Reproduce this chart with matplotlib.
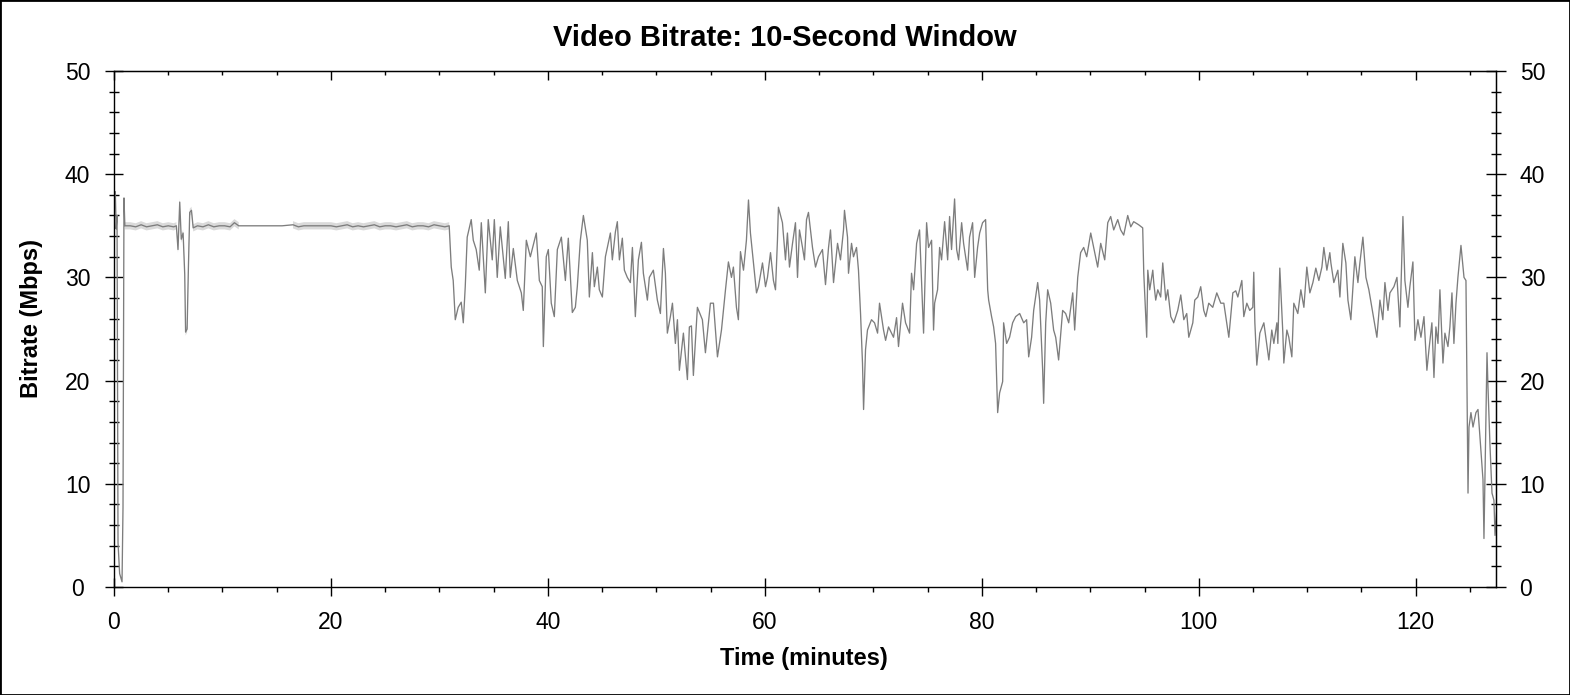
import numpy as np
import matplotlib
matplotlib.use("Agg")  # no display
import matplotlib.pyplot as plt
from matplotlib.ticker import MultipleLocator
from matplotlib.patches import Rectangle

plt.rcParams['font.family'] = ['Liberation Sans', 'DejaVu Sans']

# time in minutes, bitrate in Mbps
time_min = [
    0.05, 0.12, 0.20, 0.28, 0.37, 0.52, 0.74, 0.83, 0.89, 0.92, 1.0,
    1.5, 2.0, 2.5, 3.0, 3.5, 4.0, 4.5, 5.0, 5.5, 5.75,
    5.9, 6.06, 6.2, 6.37, 6.52, 6.6, 6.74, 6.86, 6.98, 7.14, 7.3,
    7.7, 8.2, 8.7, 9.2, 9.7, 10.2, 10.7, 11.1, 11.5,
    13.0, 15.5, 16.5, 17.0, 17.5, 18.0, 19.5,
    20.0, 20.5, 21.0, 21.5, 22.0, 22.5, 23.0, 23.5, 24.0, 24.5, 25.0, 25.5,
    26.0, 26.5, 27.0, 27.5, 28.0, 28.5, 29.0, 29.5, 30.0, 30.5, 30.9,
    31.09, 31.27, 31.46, 31.73, 32.01, 32.20, 32.38, 32.56, 32.93, 33.12,
    33.39, 33.67, 33.86, 34.23, 34.50, 34.87, 35.06, 35.33, 35.61, 36.07,
    36.35, 36.53, 36.81, 37.18, 37.55, 37.73, 38.01, 38.38, 38.93, 39.21,
    39.48, 39.58, 39.85, 40.04, 40.31, 40.59, 40.87, 41.24, 41.61, 41.88,
    42.25, 42.53, 42.71, 42.99, 43.27, 43.63, 43.82, 44.10, 44.28, 44.56,
    44.74, 45.02, 45.30, 45.76, 45.94, 46.22, 46.40, 46.59, 46.86, 47.05,
    47.32, 47.60, 47.79, 48.06, 48.34, 48.62, 48.80, 49.17, 49.35, 49.72,
    50.09, 50.37, 50.65, 50.83, 51.01, 51.29, 51.48, 51.75, 51.94, 52.12,
    52.49, 52.86, 53.04, 53.23, 53.41, 53.78, 54.24, 54.52, 54.98, 55.26,
    55.63, 56.00, 56.37, 56.64, 56.92, 57.10, 57.38, 57.56, 57.75, 58.03,
    58.30, 58.49, 58.67, 58.95, 59.23, 59.41, 59.78, 60.06, 60.24, 60.52,
    60.79, 60.98, 61.16, 61.25, 61.62, 61.90, 62.08, 62.27, 62.55, 62.82,
    63.01, 63.19, 63.47, 63.65, 63.84, 64.02, 64.39, 64.67, 64.94, 65.31,
    65.59, 65.87, 66.05, 66.33, 66.70, 66.97, 67.25, 67.34, 67.62, 67.71,
    67.99, 68.17, 68.45, 68.63, 68.82, 69.00, 69.10, 69.28, 69.46, 69.83,
    70.11, 70.39, 70.57, 70.94, 71.13, 71.40, 71.86, 72.14, 72.32, 72.69,
    72.97, 73.34, 73.52, 73.71, 73.99, 74.26, 74.45, 74.63, 74.91, 75.09,
    75.37, 75.55, 75.65, 75.92, 76.11, 76.29, 76.57, 76.85, 77.03, 77.21,
    77.49, 77.68, 77.86, 78.14, 78.32, 78.69, 78.87, 79.15, 79.34, 79.61,
    79.80, 80.07, 80.35, 80.54, 80.63, 80.90, 81.09, 81.27, 81.46, 81.64,
    81.92, 82.01, 82.29, 82.56, 82.84, 83.12, 83.49, 83.86, 84.13, 84.32,
    84.59, 84.78, 85.15, 85.33, 85.61, 85.70, 85.89, 86.07, 86.35, 86.62,
    86.81, 87.08, 87.45, 87.73, 88.01, 88.38, 88.56, 88.84, 89.11, 89.39,
    89.67, 90.04, 90.31, 90.68, 90.96, 91.33, 91.61, 91.88, 92.16, 92.53,
    92.80, 93.08, 93.45, 93.73, 94.00, 94.46, 94.83, 94.93, 95.20, 95.30,
    95.48, 95.76, 95.85, 96.03, 96.22, 96.49, 96.68, 96.96, 97.14, 97.42,
    97.69, 98.06, 98.34, 98.62, 98.89, 99.08, 99.45, 99.63, 99.91, 100.18,
    100.46, 100.65, 100.92, 101.29, 101.66, 102.03, 102.31, 102.58, 102.77, 103.14,
    103.41, 103.60, 103.97, 104.15, 104.43, 104.70, 104.98, 105.07, 105.17, 105.35,
    105.63, 106.00, 106.46, 106.73, 106.92, 107.20, 107.29, 107.47, 107.75, 107.84,
    108.12, 108.30, 108.58, 108.76, 109.13, 109.41, 109.69, 109.96, 110.24, 110.52,
    110.79, 111.07, 111.35, 111.53, 111.81, 112.08, 112.18, 112.45, 112.82, 113.01,
    113.28, 113.56, 113.75, 114.02, 114.39, 114.67, 114.85, 115.13, 115.41, 115.68,
    116.05, 116.42, 116.70, 116.97, 117.16, 117.44, 117.62, 117.99, 118.27, 118.54,
    118.82, 119.00, 119.28, 119.46, 119.74, 119.93, 120.20, 120.48, 120.76, 121.03,
    121.22, 121.49, 121.68, 121.86, 122.05, 122.23, 122.51, 122.69, 122.97, 123.15,
    123.34, 123.52, 123.71, 123.89, 124.17, 124.45, 124.63, 124.82, 124.91, 125.09,
    125.28, 125.55, 125.74, 125.92, 126.20, 126.29, 126.57, 126.66, 126.85, 127.03,
    127.21, 127.31, 127.49,
]
bitrate_mbps = [
    38.0, 38.3, 34.7, 36.0, 4.3, 1.3, 0.5, 7.7, 25.7, 37.7, 35.0,
    35.0, 34.9, 35.1, 34.9, 35.0, 35.1, 34.9, 35.0, 34.9, 35.0,
    32.7, 37.3, 33.7, 34.3, 30.3, 24.7, 25.0, 31.0, 36.3, 36.5, 34.8,
    35.0, 34.9, 35.1, 34.9, 35.0, 35.0, 34.9, 35.3, 35.0,
    35.0, 35.0, 35.1, 34.9, 35.0, 35.0, 35.0,
    35.0, 34.9, 35.0, 35.1, 34.9, 35.0, 34.9, 35.0, 35.1, 34.9, 35.0, 35.0,
    34.9, 35.0, 35.1, 34.9, 35.0, 35.0, 34.9, 35.1, 35.0, 34.9, 35.0,
    31.0, 29.7, 25.9, 27.1, 27.6, 25.6, 29.1, 33.9, 35.6, 33.6,
    32.7, 30.7, 35.3, 28.5, 35.6, 31.7, 35.6, 30.0, 34.9, 29.9,
    35.4, 30.0, 32.8, 29.7, 28.5, 26.8, 33.6, 32.0, 34.3, 29.7,
    29.1, 23.3, 32.0, 32.7, 27.5, 26.2, 32.7, 33.9, 29.7, 33.8,
    26.6, 27.1, 29.1, 33.6, 36.0, 33.6, 28.1, 32.4, 29.1, 31.0,
    28.8, 28.1, 32.0, 34.3, 31.7, 34.4, 35.4, 31.7, 33.8, 30.7,
    30.0, 29.5, 32.9, 26.2, 31.7, 33.4, 30.4, 27.8, 30.0, 30.7,
    27.8, 26.5, 32.8, 30.4, 24.6, 26.2, 27.5, 23.6, 25.9, 21.0,
    24.6, 20.1, 25.2, 25.3, 20.5, 27.1, 25.9, 22.7, 27.5, 27.5,
    22.3, 24.9, 28.8, 31.5, 30.0, 31.0, 27.1, 25.9, 32.5, 30.7,
    33.6, 37.5, 34.3, 31.4, 28.5, 29.1, 31.4, 29.1, 30.0, 32.4,
    29.7, 28.8, 33.6, 36.8, 35.3, 31.7, 34.3, 31.0, 33.3, 35.3,
    30.0, 34.6, 32.9, 31.7, 35.6, 36.3, 32.9, 31.0, 32.0, 32.7,
    29.3, 32.9, 34.6, 29.5, 33.3, 31.7, 34.6, 36.5, 33.9, 30.4,
    33.3, 32.0, 32.9, 30.7, 26.5, 21.7, 17.2, 23.0, 24.9, 25.9,
    25.6, 24.6, 27.5, 24.9, 23.9, 25.2, 24.2, 26.1, 23.3, 27.5,
    25.6, 24.6, 30.4, 28.8, 33.3, 34.6, 29.5, 24.6, 35.3, 32.9,
    33.6, 24.9, 27.5, 28.8, 32.9, 31.7, 35.4, 31.7, 35.9, 32.7,
    37.6, 32.7, 31.7, 35.3, 33.3, 30.7, 33.9, 35.3, 30.0, 32.9,
    34.3, 35.3, 35.6, 28.8, 27.8, 26.2, 25.2, 23.6, 16.9, 18.8,
    19.9, 25.6, 23.6, 24.2, 25.6, 26.2, 26.5, 25.6, 25.9, 22.3,
    24.2, 26.8, 29.5, 27.8, 21.0, 17.8, 25.6, 28.8, 27.5, 24.9,
    24.2, 22.0, 26.8, 26.5, 25.6, 28.5, 24.9, 30.0, 32.4, 32.9,
    32.0, 34.3, 32.9, 31.0, 33.3, 31.7, 35.3, 35.9, 34.6, 35.6,
    34.6, 34.1, 36.0, 34.9, 35.4, 35.1, 34.8, 30.4, 24.2, 30.7,
    28.8, 30.7, 29.5, 27.8, 28.8, 28.1, 31.4, 27.8, 28.8, 26.2,
    25.6, 26.8, 28.3, 25.9, 26.5, 24.2, 25.6, 27.8, 28.1, 29.1,
    26.8, 26.2, 27.5, 27.1, 28.5, 27.5, 27.5, 25.6, 24.2, 28.5,
    28.7, 28.1, 29.7, 26.2, 27.5, 26.8, 27.1, 30.5, 25.6, 21.5,
    24.6, 25.6, 22.0, 24.9, 23.6, 25.6, 23.6, 30.9, 24.6, 21.7,
    24.9, 24.2, 22.3, 27.5, 26.5, 28.8, 27.1, 31.0, 28.5, 29.5,
    30.9, 29.7, 31.0, 32.9, 30.7, 32.4, 31.4, 29.5, 30.7, 28.1,
    33.3, 31.4, 27.8, 25.9, 32.0, 29.5, 31.4, 33.9, 30.0, 28.8,
    26.5, 24.2, 27.8, 25.9, 29.5, 26.8, 28.5, 29.1, 30.0, 25.2,
    35.9, 29.7, 27.1, 29.1, 31.5, 23.9, 25.9, 24.2, 26.2, 21.0,
    23.0, 25.6, 20.3, 25.2, 23.6, 28.8, 21.7, 24.6, 23.3, 25.2,
    28.5, 23.6, 27.5, 30.0, 33.1, 30.0, 29.7, 9.1, 15.5, 16.9,
    15.5, 16.9, 17.2, 14.5, 10.4, 4.7, 22.7, 19.4, 13.6, 9.1,
    8.4, 5.0, 7.8,
]

x_ticks = [0, 20, 40, 60, 80, 100, 120]
y_ticks = [0, 10, 20, 30, 40, 50]

title = "Video Bitrate: 10-Second Window"
x_label = "Time (minutes)"
y_label = "Bitrate (Mbps)"

t = np.array(time_min)
v = np.array(bitrate_mbps)

W, H = 1570, 695
fig = plt.figure(figsize=(W / 100, H / 100), dpi=100)
ax = fig.add_axes([114 / W, 1 - 587 / H, (1496 - 114) / W, (587 - 71) / H])

# light grey envelope only shows on the constant-rate stretches
flat = ((t >= 1.0) & (t <= 11.6)) | ((t >= 16.0) & (t <= 30.95))
ax.fill_between(t, v - 0.35, v + 0.35, where=flat, color="#dadada", lw=0, zorder=1)
ax.plot(t, v, color="#7d7d7d", lw=0.95, zorder=2)

ax.set_xlim(0, 127.4)
ax.set_ylim(0, 50)
for s in ax.spines.values():
    s.set_linewidth(1.0)

# bottom / left ticks
ax.set_xticks(x_ticks)
ax.set_yticks(y_ticks)
ax.xaxis.set_minor_locator(MultipleLocator(5))
ax.yaxis.set_minor_locator(MultipleLocator(2))
ax.tick_params(axis="x", which="major", direction="inout", length=13, width=1,
               pad=11, labelsize=16.5)
ax.tick_params(axis="x", which="minor", direction="out", length=3.5, width=1)
ax.tick_params(axis="y", which="major", direction="inout", length=13.5, width=1,
               pad=19.5, labelsize=16.5)
ax.tick_params(axis="y", which="minor", direction="inout", length=6.5, width=1)
for lab in ax.get_yticklabels():
    lab.set_horizontalalignment("center")

# top and right ticks
top = ax.secondary_xaxis("top")
top.set_xticks(x_ticks)
top.xaxis.set_minor_locator(MultipleLocator(5))
top.tick_params(which="major", direction="in", length=6.5, width=1, labeltop=False)
top.tick_params(which="minor", direction="in", length=3, width=1)

right = ax.secondary_yaxis("right")
right.set_yticks(y_ticks)
right.yaxis.set_minor_locator(MultipleLocator(2))
right.tick_params(which="major", direction="inout", length=14, width=1,
                  pad=10, labelsize=16.5)
right.tick_params(which="minor", direction="inout", length=7, width=1)

fig.text(0.5, 1 - 46 / H, title, ha="center", va="baseline",
         fontsize=21, fontweight="bold")
fig.text(804 / W, 1 - 659 / H, x_label, ha="center", va="center",
         fontsize=17, fontweight="bold")
fig.text(32 / W, 1 - 318 / H, y_label, ha="center", va="center",
         rotation=90, fontsize=17, fontweight="bold")

# thin frame around the whole picture
fig.add_artist(Rectangle((0, 0), 1, 1, transform=fig.transFigure, fill=False,
                         edgecolor="black", lw=2))

fig.savefig("out.png", dpi=100, facecolor="white")
plt.close(fig)
